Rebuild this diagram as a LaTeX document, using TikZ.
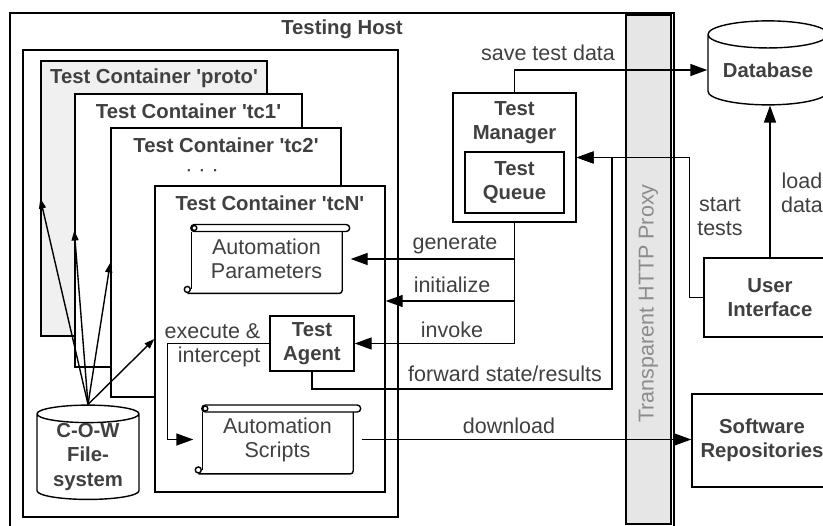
\documentclass[tikz,border=0pt]{standalone}
\usepackage{fontspec}
\setmainfont{Liberation Sans}
\usepackage{tikz}
\usetikzlibrary{arrows.meta,positioning,shapes.geometric,calc}
\definecolor{txtgray}{HTML}{404040}
\definecolor{protogray}{HTML}{F0F0F0}
\definecolor{proxygray}{HTML}{E6E6E6}
\definecolor{proxytxt}{HTML}{8C8C8C}
\newcommand{\reg}{\fontsize{21.5}{24}\selectfont}
\newcommand{\bld}{\fontsize{20.3}{24.5}\selectfont\bfseries}
\tikzset{
  box/.style={ draw, fill=white, inner sep=0pt }
}
\tikzset{
  boldtxt/.style={ font=\bld, text=txtgray, align=center }
}
\tikzset{
  lbl/.style={ font=\reg, text=txtgray, align=center, inner sep=0pt }
}
\tikzset{
  store/.style={ draw, fill=white, cylinder, shape border rotate=90, font=\bld, text=txtgray, align=center, inner sep=0pt }
}
\tikzset{
  arr/.style={ -{Triangle[length=17pt,width=12pt]} }
}
\tikzset{
  cowarr/.style={ -{Triangle[length=10pt,width=7pt]} }
}
\tikzset{scroll/.style={
  minimum width=167pt, minimum height=67.5pt, inner sep=0pt,
  font=\reg, text=txtgray, align=center,
  append after command={
    \pgfextra{%
      % the rolled band on top, with its curl
      \draw[fill=white, rounded corners=3.5pt] ([xshift=8.5pt]\tikzlastnode.north west)
        rectangle ([xshift=-1pt,yshift=-7pt]\tikzlastnode.north east);
      \draw ([xshift=12pt,yshift=-3.5pt]\tikzlastnode.north west) circle (2.5pt);
      % the sheet hanging below it
      \draw ([xshift=9pt,yshift=-7pt]\tikzlastnode.north west)
        -- ([xshift=9pt,yshift=4pt]\tikzlastnode.south west);
      \draw[rounded corners=3pt] ([xshift=5pt]\tikzlastnode.south west)
        -- ([xshift=-8.5pt]\tikzlastnode.south east)
        -- ([xshift=-8.5pt,yshift=-7pt]\tikzlastnode.north east);
      \draw ([xshift=5pt,yshift=4pt]\tikzlastnode.south west) circle (3pt);
    }
  }
}}

\begin{document}
\begin{tikzpicture}[x=1pt, y=-1pt, line width=1.4pt]
  \useasboundingbox (0,0) rectangle (823,526);

  % host and its containers
  \node[box, minimum width=664, minimum height=522] (host) at (342,274) {};
  \node[boldtxt] (hostlbl) at (342,29) {Testing Host};
  \node[box, minimum width=375, minimum height=467] (frame) at (210.5,283.5) {};
  \node[box, fill=protogray, minimum width=226, minimum height=275] (proto) at (154,198.5) {};
  \node[box, minimum width=227, minimum height=273] (tc1) at (188.5,230.5) {};
  \node[box, minimum width=230, minimum height=269] (tc2) at (226,262.5) {};
  \node[box, minimum width=230, minimum height=306] (tcN) at (270,339) {};
  \node[boldtxt] (protolbl) at ([yshift=-17.5pt]proto.north) {Test Container \textquotesingle proto\textquotesingle};
  \node[boldtxt] (tc1lbl) at ([yshift=-18pt]tc1.north) {Test Container \textquotesingle tc1\textquotesingle};
  \node[boldtxt] (tc2lbl) at ([yshift=-18pt]tc2.north) {Test Container \textquotesingle tc2\textquotesingle};
  \node[lbl] (dots) at (202,173) {· · ·};
  \node[boldtxt] (tcNlbl) at ([yshift=-17.5pt]tcN.north) {Test Container \textquotesingle tcN\textquotesingle};

  \node[scroll] (params) at (266.5,259) {Automation\\Parameters};
  \node[scroll] (scripts) at (277.5,439.5) {Automation\\Scripts};
  \node[box, boldtxt, minimum width=84, minimum height=55] (agent) at (312,343.5) {Test\\Agent};
  \node[store, minimum width=102, minimum height=90, aspect=0.25] (cowfs) at (88,457) {C-O-W\\File-\\system};

  \foreach \tc in {proto,tc1,tc2,tcN}
    \draw[cowarr] (cowfs.north) -- (\tc.west);

  \node[box, minimum width=123, minimum height=129] (manager) at (514.5,157.5) {};
  \node[boldtxt] (managerlbl) at (514.5,122.5) {Test\\Manager};
  \node[box, boldtxt, minimum width=99, minimum height=61] (queue) at (514.5,182.5) {Test\\Queue};

  % proxy bar and the outside world
  \node[box, fill=proxygray, minimum width=45, minimum height=509] (proxy) at (648.5,269.5) {};
  \node[lbl, text=proxytxt, rotate=90] (proxylbl) at (648.5,303.5) {Transparent HTTP Proxy};
  \node[store, minimum width=120, minimum height=84, aspect=0.3] (database) at (768,70) {Database};
  \node[box, boldtxt, minimum width=132, minimum height=79] (ui) at (770,297.5) {User\\Interface};
  \node[box, boldtxt, minimum width=140, minimum height=93] (repo) at (762,440.5) {Software\\Repositories};

  \coordinate (initpt) at ([yshift=38pt]tcN.east);
  \coordinate (fwd) at (612,389);

  \draw[arr] (manager.north) |- (database.west);
  \draw[arr] (manager.south) |- (agent.east);
  \draw[arr] (manager.south |- params.east) -- (params.east);
  \draw[arr] (manager.south |- initpt) -- (initpt);
  \draw[arr] (agent.south) |- (fwd) |- (manager.east);
  \draw[arr] (ui.west) -- ++(-14pt,0) |- (manager.east);
  \draw[arr] (ui.north) -- (ui.north |- database.south);
  \draw[arr] (scripts.east) -- (scripts.east -| repo.west);
  \draw[arr] (agent.west) -- ++(-102pt,0) |- (scripts.west);

  \node[lbl] (lblsave) at (548,53) {save test data};
  \node[lbl] (lblgen) at (455,245) {generate};
  \node[lbl] (lblinit) at (452,285) {initialize};
  \node[lbl] (lblinv) at (452,330) {invoke};
  \node[lbl] (lblfwd) at (505,374) {forward state/results};
  \node[lbl] (lblstart) at (720,217) {start\\tests};
  \node[lbl] (lblload) at (802,193) {load\\data};
  \node[lbl] (lbldown) at (509,426) {download};
  \node[lbl, align=right, anchor=east] (lblexec) at (261,345) {execute \&\\intercept};
\end{tikzpicture}
\end{document}
